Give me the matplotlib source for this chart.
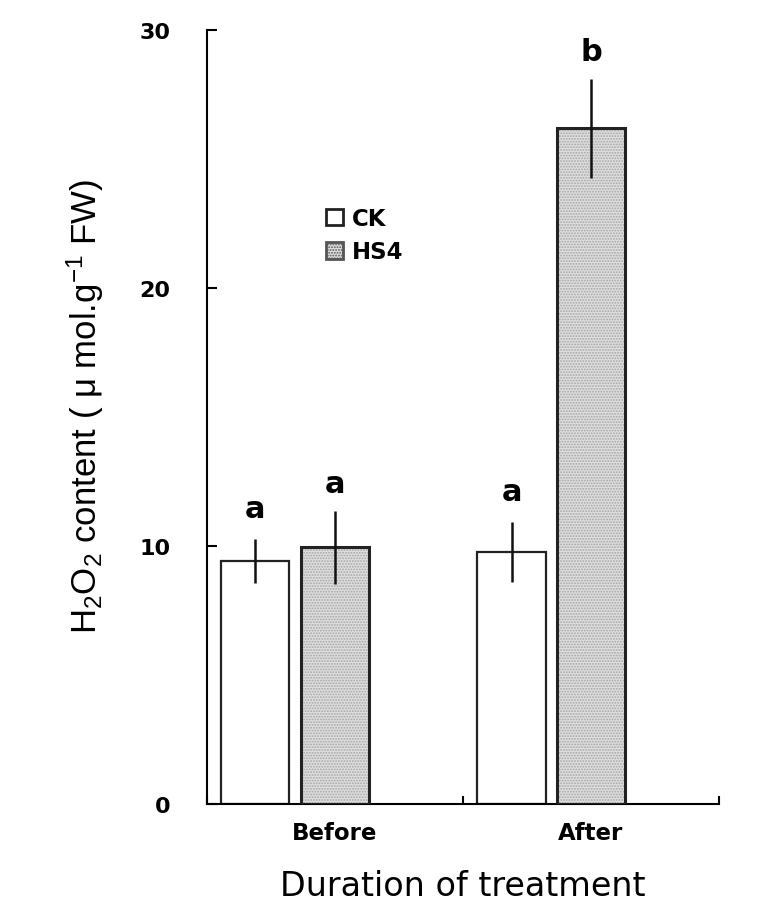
import numpy as np
import matplotlib.pyplot as plt
from matplotlib.patches import Patch

# data
periods = ['Before', 'After']
ck_mean = [9.43, 9.76]
ck_err = [0.84, 1.16]
hs4_mean = [9.95, 26.19]
hs4_err = [1.43, 1.93]
ck_letters = ['a', 'a']
hs4_letters = ['a', 'b']

plt.rcParams['font.family'] = ['DejaVu Sans']
plt.rcParams['hatch.linewidth'] = 0.9
plt.rcParams['mathtext.fontset'] = 'custom'
plt.rcParams['mathtext.rm'] = 'Liberation Sans'
plt.rcParams['mathtext.it'] = 'Liberation Sans'

fig = plt.figure(figsize=(7.6, 9.12), dpi=100)
ax = fig.add_axes([0.272, 0.117, 0.674, 0.849])

x = np.arange(len(periods))
w = 0.266
x_ck = x + 0.19
x_hs = x + 0.5

ax.bar(x_ck, ck_mean, w, color='white', edgecolor='#222222', linewidth=1.6, zorder=2)
# dotted grey fill, then dark outline on top
ax.bar(x_hs, hs4_mean, w, color='#dedede', edgecolor='#a6a6a6', hatch='......', linewidth=0, zorder=2)
ax.bar(x_hs, hs4_mean, w, color='none', edgecolor='#222222', linewidth=2.2, zorder=3)

ax.errorbar(x_ck, ck_mean, yerr=ck_err, fmt='none', ecolor='#111111', elinewidth=1.8, capsize=0, zorder=4)
ax.errorbar(x_hs, hs4_mean, yerr=hs4_err, fmt='none', ecolor='#111111', elinewidth=1.8, capsize=0, zorder=4)

for xi, m, e, t in zip(x_ck, ck_mean, ck_err, ck_letters):
    ax.text(xi, m + e + 1.2, t, ha='center', va='center', fontsize=22, fontweight='bold')
for xi, m, e, t in zip(x_hs, hs4_mean, hs4_err, hs4_letters):
    ax.text(xi, m + e + 1.05, t, ha='center', va='center', fontsize=22, fontweight='bold')

ax.set_xlim(0, 2)
ax.set_ylim(0, 30)
ax.spines['top'].set_visible(False)
ax.spines['right'].set_visible(False)
ax.spines['left'].set_linewidth(1.5)
ax.spines['bottom'].set_linewidth(1.5)

ax.set_yticks([0, 10, 20, 30])
ax.tick_params(axis='y', direction='in', length=7, width=1.5, pad=26, labelsize=16)
for lab in ax.get_yticklabels():
    lab.set_fontweight('bold')

ax.set_xticks([0, 1, 2])
ax.set_xticklabels([])
ax.tick_params(axis='x', which='major', direction='in', length=6, width=1.5)
ax.set_xticks(x + 0.5, minor=True)
ax.set_xticklabels(periods, minor=True, fontsize=16.5, fontweight='bold')
ax.tick_params(axis='x', which='minor', length=0, pad=12)

ax.set_xlabel('Duration of treatment', fontsize=24, labelpad=18)
ax.set_ylabel(r'H$\mathregular{_2}$O$\mathregular{_2}$ content ( μ mol.g$\mathregular{^{-1}}$ FW)',
              fontsize=25, family='Liberation Sans')
ax.yaxis.set_label_coords(-0.196, 0.515)

handles = [Patch(facecolor='white', edgecolor='#222222', linewidth=2, label='CK'),
           Patch(facecolor='#dedede', edgecolor='#555555', hatch='......', linewidth=2, label='HS4')]
leg = ax.legend(handles=handles, loc='upper left', bbox_to_anchor=(0.193, 0.798), frameon=False,
                handlelength=0.75, handleheight=0.75, handletextpad=0.35, labelspacing=0.45,
                prop={'size': 16.5, 'weight': 'bold'})

fig.savefig('out.png', dpi=100)
